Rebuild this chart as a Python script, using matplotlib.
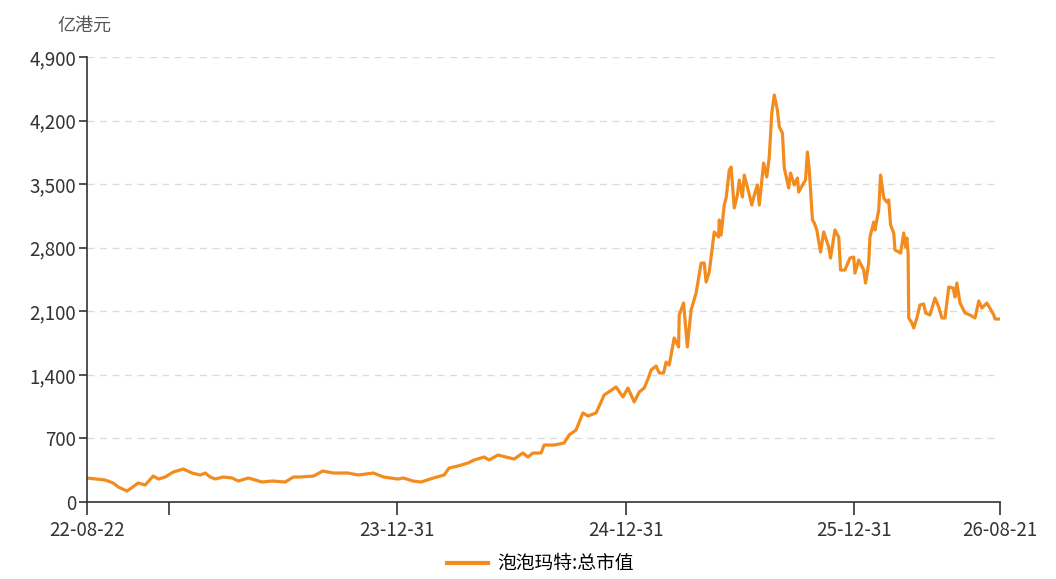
import datetime as dt
import matplotlib
matplotlib.use("Agg")
import matplotlib.pyplot as plt
from matplotlib.ticker import FuncFormatter

plt.rcParams['font.family'] = ['Noto Sans CJK SC', 'DejaVu Sans']

# 数据: 距 2022-08-22 的天数, 总市值(亿港元)
start = dt.date(2022, 8, 22)
end = dt.date(2026, 8, 21)
days = [0, 29, 42, 50, 64, 82, 93, 106, 114, 125, 138, 154, 168, 181, 189, 197,
        205, 218, 232, 242, 258, 280, 296, 317, 330, 341, 362, 377, 394, 417,
        434, 458, 474, 497, 506, 521, 534, 554, 571, 579, 593, 609, 619, 635,
        643, 657, 683, 697, 705, 713, 726, 731, 747, 763, 771, 782, 793, 801,
        814, 827, 846, 857, 865, 875, 883, 891, 897, 902, 910, 915, 922, 926,
        931, 939, 946, 947, 954, 960, 966, 974, 982, 987, 990, 995, 1003, 1010,
        1011, 1014, 1019, 1022, 1027, 1030, 1035, 1040, 1043, 1048, 1051, 1058,
        1063, 1067, 1072, 1075, 1082, 1087, 1091, 1095, 1099, 1104, 1107, 1112,
        1115, 1122, 1125, 1131, 1136, 1138, 1146, 1149, 1152, 1155, 1160, 1163,
        1167, 1173, 1178, 1186, 1189, 1196, 1202, 1205, 1212, 1220, 1226, 1228,
        1234, 1242, 1245, 1250, 1252, 1258, 1260, 1266, 1269, 1274, 1279, 1282,
        1285, 1290, 1292, 1298, 1301, 1306, 1309, 1311, 1313, 1314, 1319, 1322,
        1327, 1332, 1338, 1341, 1348, 1356, 1362, 1367, 1372, 1378, 1385, 1388,
        1391, 1396, 1404, 1412, 1420, 1426, 1431, 1439, 1450, 1452, 1460]
market_cap = [264, 242, 209, 165, 121, 209, 187, 286, 253, 275, 330, 363, 319,
              297, 319, 275, 253, 275, 264, 231, 264, 220, 231, 220, 275, 275,
              285, 341, 319, 319, 297, 319, 275, 253, 264, 231, 220, 264, 297,
              374, 396, 429, 462, 495, 462, 517, 473, 539, 495, 539, 539, 627,
              627, 650, 738, 793, 980, 947, 980, 1178, 1266, 1156, 1255, 1101,
              1211, 1255, 1354, 1453, 1497, 1420, 1420, 1541, 1508, 1806, 1707,
              2059, 2191, 1707, 2114, 2301, 2631, 2631, 2422, 2532, 2973, 2918,
              3105, 2940, 3270, 3347, 3655, 3688, 3237, 3380, 3545, 3358, 3600,
              3413, 3270, 3380, 3490, 3270, 3732, 3578, 3798, 4283, 4481, 4316,
              4129, 4063, 3677, 3457, 3622, 3490, 3567, 3413, 3512, 3545, 3853,
              3655, 3105, 3072, 2995, 2752, 2973, 2808, 2686, 2995, 2918, 2554,
              2554, 2686, 2697, 2521, 2664, 2554, 2411, 2631, 2918, 3083, 2995,
              3215, 3600, 3347, 3303, 3325, 3050, 2962, 2775, 2752, 2741, 2962,
              2808, 2907, 2741, 2026, 1971, 1916, 2026, 2169, 2180, 2081, 2059,
              2246, 2147, 2026, 2026, 2367, 2356, 2257, 2411, 2191, 2081, 2059,
              2026, 2213, 2136, 2191, 2059, 2015, 2015]
dates = [start + dt.timedelta(days=d) for d in days]

y_ticks = [0, 700, 1400, 2100, 2800, 3500, 4200, 4900]
x_ticks = [start, dt.date(2022, 12, 31), dt.date(2023, 12, 31),
           dt.date(2024, 12, 31), dt.date(2025, 12, 31), end]
x_labels = ['22-08-22', '', '23-12-31', '24-12-31', '25-12-31', '26-08-21']

fig = plt.figure(figsize=(10.56, 5.79), dpi=100)
ax = fig.add_axes([0.0824, 0.133, 0.8646, 0.7686])

line_color = '#F28C1E'
ax.plot(dates, market_cap, color=line_color, lw=2.3, label='泡泡玛特:总市值')

ax.set_xlim(start, end)
ax.set_ylim(0, 4900)
ax.set_yticks(y_ticks)
ax.yaxis.set_major_formatter(FuncFormatter(lambda v, p: f'{int(v):,}'))
ax.set_xticks(x_ticks)
ax.set_xticklabels(x_labels)

for v in y_ticks[1:]:
    ax.axhline(v, color='#dcdcdc', lw=1, ls=(0, (5, 4)), zorder=0)

for s in ['top', 'right']:
    ax.spines[s].set_visible(False)
for s in ['left', 'bottom']:
    ax.spines[s].set_color('#333333')
    ax.spines[s].set_linewidth(1.2)

ax.tick_params(axis='y', length=6, width=1.2, color='#333333',
               labelsize=13.5, labelcolor='#333333', pad=2)
ax.tick_params(axis='x', length=9, width=1.2, color='#333333',
               labelsize=13.5, labelcolor='#333333', pad=4)

fig.text(0.054, 0.955, '亿港元', fontsize=13, color='#555555', va='center')

fig.legend(loc='center', bbox_to_anchor=(0.512, 0.026), frameon=False,
           fontsize=13.5, handlelength=2.2, handletextpad=0.5)
for h in fig.legends[0].get_lines():
    h.set_linewidth(3)

fig.savefig('out.png', dpi=100)
